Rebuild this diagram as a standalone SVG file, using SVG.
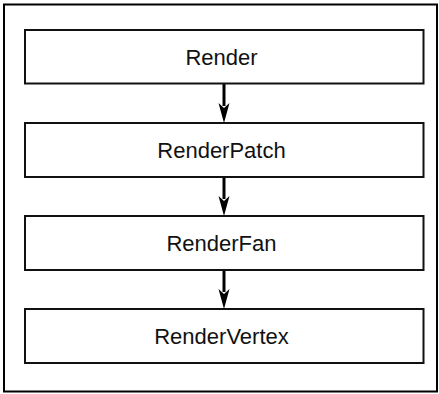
<svg xmlns="http://www.w3.org/2000/svg" width="439" height="394" viewBox="0 0 439 394">
<style>
.box{fill:#fff;stroke:#111;stroke-width:2}
.lbl{font-family:"Liberation Sans",Arial,sans-serif;font-size:22px;fill:#111;text-anchor:middle}
.edge{stroke:#000;stroke-width:3;fill:none}
.head{fill:#000}
</style>
<rect x="4" y="4.5" width="433" height="387" fill="#fff" stroke="#000" stroke-width="2"/>
<g id="connectors">
<line class="edge" x1="224" y1="84" x2="224" y2="106"/>
<path class="head" d="M218.5,103 L224,108 L229.5,103 L224,123 Z"/>
<line class="edge" x1="224" y1="177" x2="224" y2="199"/>
<path class="head" d="M218.5,196 L224,201 L229.5,196 L224,216 Z"/>
<line class="edge" x1="224" y1="270" x2="224" y2="292"/>
<path class="head" d="M218.5,289 L224,294 L229.5,289 L224,309 Z"/>
</g>
<g id="render"><rect class="box" x="25" y="30" width="398.5" height="53.5"/><text class="lbl" x="221.5" y="64.5">Render</text></g>
<g id="renderpatch"><rect class="box" x="25" y="123" width="398.5" height="54"/><text class="lbl" x="221.5" y="158">RenderPatch</text></g>
<g id="renderfan"><rect class="box" x="25" y="216" width="398.5" height="54"/><text class="lbl" x="221.5" y="251">RenderFan</text></g>
<g id="rendervertex"><rect class="box" x="25" y="309" width="398.5" height="54"/><text class="lbl" x="221.5" y="344">RenderVertex</text></g>
</svg>
